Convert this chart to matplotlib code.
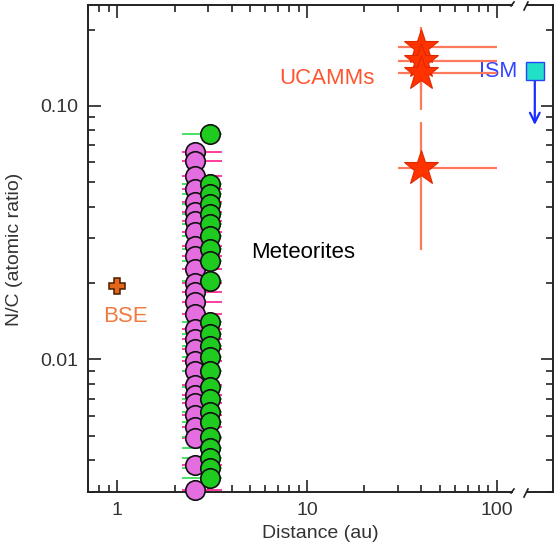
#!/usr/bin/env python3

import numpy as np
from matplotlib import pyplot as plt
from matplotlib.lines import Line2D
from matplotlib.ticker import FixedLocator, FixedFormatter, LogLocator, NullFormatter

plt.rcParams['font.family'] = ['Liberation Sans', 'DejaVu Sans']

# meteorites (two groups), distance in au and N/C
pink_x = 2.57
pink_xlo, pink_xhi = 2.2, 3.55
pink_nc = [0.0658, 0.0606, 0.0529, 0.0470, 0.0417, 0.0381, 0.0351, 0.0318,
           0.0280, 0.0255, 0.0227, 0.0201, 0.0184, 0.0168, 0.01506, 0.01314,
           0.0120, 0.01095, 0.00982, 0.00897, 0.00796, 0.00727, 0.00676,
           0.00606, 0.00539, 0.00492, 0.00385, 0.00306]

green_x = 3.08
green_xlo, green_xhi = 2.2, 3.55
green_nc = [0.0775, 0.0492, 0.0449, 0.0410, 0.0374, 0.0342, 0.0306, 0.0272,
            0.0244, 0.0203, 0.0141, 0.01256, 0.01125, 0.01018, 0.00897,
            0.00782, 0.00695, 0.00623, 0.00564, 0.00496, 0.00449, 0.00410,
            0.00374, 0.00342]

# UCAMMs
ucamm_x = [40, 40, 40, 40]
ucamm_xlo = [30, 30, 30, 30]
ucamm_xhi = [100, 100, 100, 100]
ucamm_nc = [0.170, 0.150, 0.135, 0.057]
ucamm_nclo = [0.135, 0.115, 0.096, 0.027]
ucamm_nchi = [0.205, 0.185, 0.170, 0.086]

# bulk silicate earth
bse_x, bse_nc = 1.0, 0.0195

# interstellar medium (upper limit)
ism_x, ism_nc, ism_lim = 140, 0.137, 0.082

W, H = 559, 547


def main():
    fig = plt.figure(figsize=(W / 100, H / 100), dpi=100)
    bot, top = 1 - 492 / H, 1 - 5 / H
    ax1 = fig.add_axes([88 / W, bot, (512 - 88) / W, top - bot])
    ax2 = fig.add_axes([527 / W, bot, (553 - 527) / W, top - bot])

    ink = '#222222'
    for ax in (ax1, ax2):
        ax.set_yscale('log')
        ax.set_ylim(0.003, 0.25)
        for s in ax.spines.values():
            s.set_color(ink)
            s.set_linewidth(1.4)
    ax1.set_xscale('log')
    ax1.set_xlim(0.7, 120)
    ax2.set_xlim(125, 175)
    ax1.spines['right'].set_visible(False)
    ax2.spines['left'].set_visible(False)

    # meteorite error bars first, circles on top
    ax1.errorbar(np.full(len(pink_nc), pink_x), pink_nc,
                 xerr=[[pink_x - pink_xlo] * len(pink_nc), [pink_xhi - pink_x] * len(pink_nc)],
                 fmt='none', ecolor='#ff2d95', elinewidth=1.3, capsize=0, zorder=2)
    ax1.errorbar(np.full(len(green_nc), green_x), green_nc,
                 xerr=[[green_x - green_xlo] * len(green_nc), [green_xhi - green_x] * len(green_nc)],
                 fmt='none', ecolor='#3ddc5a', elinewidth=1.3, capsize=0, zorder=2)
    ax1.plot(np.full(len(pink_nc), pink_x), pink_nc, 'o', ms=14, mfc='#e46ee0',
             mec='#111111', mew=1.2, zorder=3, clip_on=False)
    ax1.plot(np.full(len(green_nc), green_x), green_nc, 'o', ms=14, mfc='#1ecb1e',
             mec='#111111', mew=1.2, zorder=4, clip_on=False)

    # UCAMMs
    ux = np.array(ucamm_x, float)
    un = np.array(ucamm_nc)
    ax1.errorbar(ux, un,
                 xerr=[ux - np.array(ucamm_xlo), np.array(ucamm_xhi) - ux],
                 yerr=[un - np.array(ucamm_nclo), np.array(ucamm_nchi) - un],
                 fmt='none', ecolor='#ff7a5c', elinewidth=1.6, capsize=0, zorder=5)
    ax1.plot(ux, un, '*', ms=26, mfc='#ff3300', mec='#e02800', mew=0.8, zorder=6)

    # BSE
    ax1.plot([bse_x], [bse_nc], 'P', ms=12, mfc='#e3661c', mec='#4a1e00', mew=1.1, zorder=6)

    # ISM
    ax2.annotate('', xy=(ism_x, ism_lim), xytext=(ism_x, ism_nc),
                 arrowprops=dict(arrowstyle='->,head_length=0.7,head_width=0.35',
                                 color='#1a2cff', lw=1.6))
    ax2.plot([ism_x], [ism_nc], 's', ms=12.5, mfc='#22e0c8', mec='#2244ff', mew=1.0,
             zorder=6, clip_on=False)

    # labels
    ax1.text(12.7, 0.128, 'UCAMMs', color='#ff5530', fontsize=16, ha='center', va='center')
    ax1.text(1.10, 0.0148, 'BSE', color='#f07a40', fontsize=16, ha='center', va='center')
    ax1.text(9.5, 0.0265, 'Meteorites', color='black', fontsize=16, ha='center', va='center')
    ax1.text(101, 0.137, 'ISM', color='#3344ff', fontsize=15.5, ha='center', va='center')

    # ticks
    ax1.yaxis.set_major_locator(FixedLocator([0.01, 0.1]))
    ax1.yaxis.set_major_formatter(FixedFormatter(['0.01', '0.10']))
    ax1.yaxis.set_minor_locator(LogLocator(base=10, subs=np.arange(2, 10)))
    ax1.yaxis.set_minor_formatter(NullFormatter())
    ax1.xaxis.set_major_locator(FixedLocator([1, 10, 100]))
    ax1.xaxis.set_major_formatter(FixedFormatter(['1', '10', '100']))
    ax1.xaxis.set_minor_locator(LogLocator(base=10, subs=np.arange(2, 10)))
    ax1.xaxis.set_minor_formatter(NullFormatter())
    ax1.tick_params(which='both', direction='in', top=True, right=False,
                    color=ink, width=1.2, labelsize=14, labelcolor='#333333')
    ax1.tick_params(which='major', length=9, pad=7)
    ax1.tick_params(which='minor', length=5)

    ax2.yaxis.set_major_locator(FixedLocator([0.01, 0.1]))
    ax2.yaxis.set_minor_locator(LogLocator(base=10, subs=np.arange(2, 10)))
    ax2.yaxis.set_major_formatter(NullFormatter())
    ax2.yaxis.set_minor_formatter(NullFormatter())
    ax2.set_xticks([])
    ax2.tick_params(which='both', direction='in', left=False, right=True,
                    color=ink, width=1.2)
    ax2.tick_params(which='major', length=9)
    ax2.tick_params(which='minor', length=5)

    # break marks
    for yy in (bot, top):
        fig.add_artist(Line2D([(524) / W, (528) / W], [yy - 5 / H, yy + 3 / H],
                              color=ink, lw=1.2))
        fig.add_artist(Line2D([(511) / W, (514) / W], [yy - 1 / H, yy + 3 / H],
                              color=ink, lw=1.2))

    fig.text(320 / W, 1 - 533 / H, 'Distance (au)', fontsize=14, color='#333333',
             ha='center', va='center')
    fig.text(15 / W, 1 - 249 / H, 'N/C (atomic ratio)', fontsize=14, color='#333333',
             ha='center', va='center', rotation=90)

    plt.savefig('out.png', dpi=100)


if __name__ == '__main__':
    main()
